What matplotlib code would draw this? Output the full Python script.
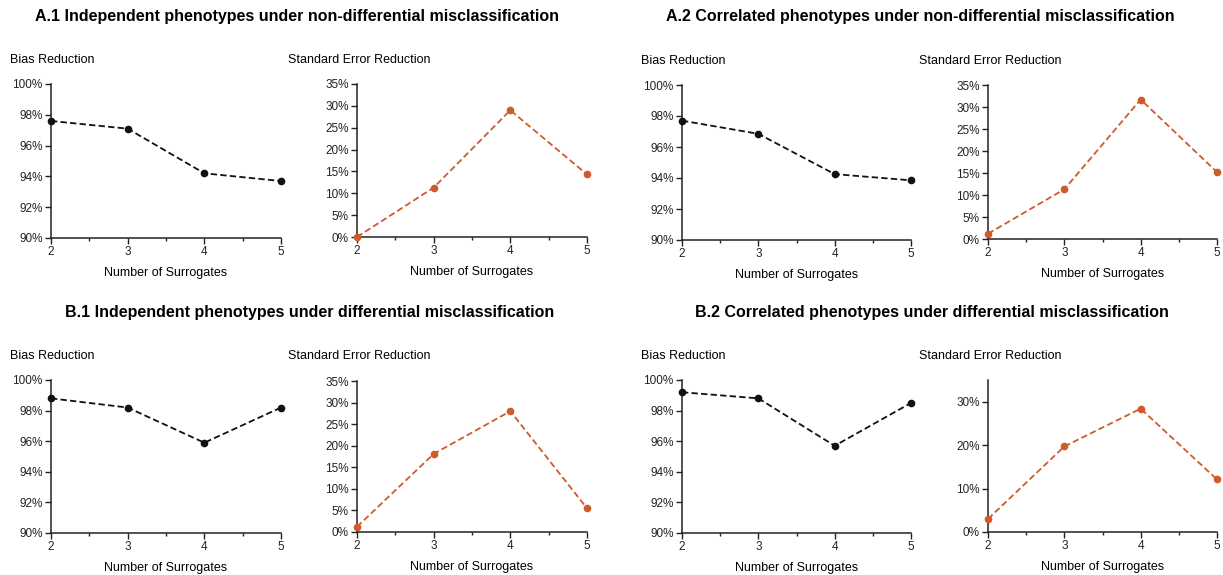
import numpy as np
import matplotlib.pyplot as plt
from matplotlib.ticker import FuncFormatter, MultipleLocator

plt.rcParams['font.family'] = ['Liberation Sans', 'DejaVu Sans']

surrogates = [2, 3, 4, 5]

a1_bias = [97.6, 97.1, 94.2, 93.7]
a1_se = [0.0, 11.3, 29.0, 14.3]
a2_bias = [97.7, 96.85, 94.25, 93.85]
a2_se = [1.2, 11.3, 31.7, 15.2]
b1_bias = [98.8, 98.2, 95.9, 98.2]
b1_se = [1.2, 18.1, 28.0, 5.5]
b2_bias = [99.2, 98.8, 95.7, 98.5]
b2_se = [3.0, 19.7, 28.4, 12.1]

titles = ["A.1 Independent phenotypes under non-differential misclassification",
          "A.2 Correlated phenotypes under non-differential misclassification",
          "B.1 Independent phenotypes under differential misclassification",
          "B.2 Correlated phenotypes under differential misclassification"]

W, H = 1223, 575
fig = plt.figure(figsize=(W / 100, H / 100), dpi=100)

black = "#111111"
orange = "#cf5a2b"


def px_axes(x0, x1, y0, y1):
    return fig.add_axes([x0 / W, (H - y1) / H, (x1 - x0) / W, (y1 - y0) / H])


def style(ax, xlabel):
    for s in ["top", "right"]:
        ax.spines[s].set_visible(False)
    for s in ["left", "bottom"]:
        ax.spines[s].set_linewidth(1.1)
        ax.spines[s].set_color("#222222")
    ax.set_xlim(2, 5)
    ax.set_xticks(surrogates)
    ax.xaxis.set_minor_locator(MultipleLocator(0.5))
    ax.tick_params(which="major", length=4, width=1, labelsize=8.5, pad=2, colors="#222222")
    ax.tick_params(which="minor", length=2.5, width=1, colors="#222222")
    ax.tick_params(axis="y", which="minor", length=0)
    ax.yaxis.set_major_formatter(FuncFormatter(lambda v, p: f"{v:.0f}%"))
    if xlabel:
        ax.set_xlabel("Number of Surrogates", fontsize=9, labelpad=6)


def draw(ax, y, color):
    ax.plot(surrogates, y, linestyle=(0, (3.5, 1.8)), color=color, linewidth=1.3,
            marker="o", markersize=4.5, clip_on=False, zorder=3)


# pixel boxes: (x0, x1, y_top, y_bottom)
bias_boxes = [(51, 281, 84, 238), (682, 911, 85, 240), (51, 281, 380, 533), (682, 911, 380, 533)]
se_boxes = [(357, 587, 84, 237), (988, 1217, 85, 239), (357, 587, 381, 532), (988, 1217, 380, 532)]
bias_data = [a1_bias, a2_bias, b1_bias, b2_bias]
se_data = [a1_se, a2_se, b1_se, b2_se]
title_pos = [(297, 17), (920, 17), (310, 313), (932, 313)]

for i in range(4):
    bx = px_axes(*bias_boxes[i])
    draw(bx, bias_data[i], black)
    bx.set_ylim(90, 100)
    bx.set_yticks(np.arange(90, 101, 2))
    style(bx, True)

    sx = px_axes(*se_boxes[i])
    draw(sx, se_data[i], orange)
    sx.set_ylim(0, 35)
    if i == 3:
        sx.set_yticks([0, 10, 20, 30])
    else:
        sx.set_yticks(np.arange(0, 36, 5))
    style(sx, True)

    bx0 = bias_boxes[i][0]
    sx0 = se_boxes[i][0]
    ly = bias_boxes[i][2] - 24
    fig.text((bx0 - 41) / W, 1 - ly / H, "Bias Reduction", fontsize=9, va="center", ha="left")
    fig.text((sx0 - 69) / W, 1 - ly / H, "Standard Error Reduction", fontsize=9, va="center", ha="left")

    tx, ty = title_pos[i]
    fig.text(tx / W, 1 - ty / H, titles[i], fontsize=11.5, fontweight="bold", ha="center", va="center")

fig.savefig("out.png", dpi=100, facecolor="white")
